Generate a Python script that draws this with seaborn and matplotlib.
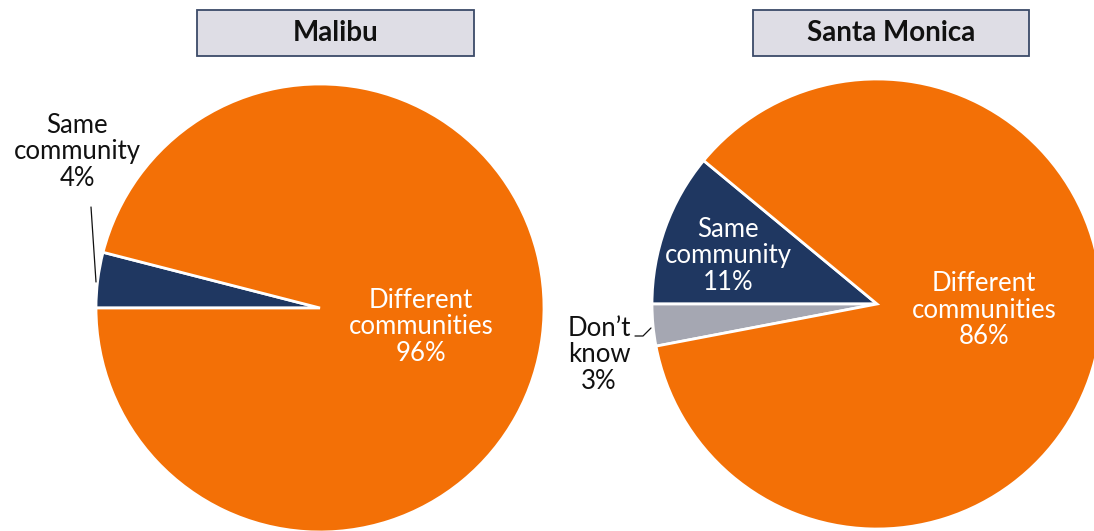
import matplotlib
matplotlib.use("Agg")
import matplotlib.pyplot as plt
from matplotlib.patches import Rectangle
import seaborn as sns

# Survey shares: where respondents' contacts live
regions = ["Malibu", "Santa Monica"]
malibu_labels = ["Same\ncommunity", "Different\ncommunities"]
malibu_values = [4, 96]
sm_labels = ["Same\ncommunity", "Don\u2019t\nknow", "Different\ncommunities"]
sm_values = [11, 3, 86]

sns.set_theme(style="white")
plt.rcParams["font.family"] = ["Lato", "DejaVu Sans"]

ORANGE = "#F37006"
NAVY = "#1F3761"
GRAY = "#A5A7B2"
BOX_FILL = "#DEDDE5"
BOX_EDGE = "#3B4A68"
DARK = "#111111"

W, H = 1094, 531
fig = plt.figure(figsize=(W / 100, H / 100), dpi=100)
ax = fig.add_axes([0, 0, 1, 1])


def y(px):
    """Convert a top-based pixel row to the axes' upward y coordinate."""
    return H - px


wedge_style = dict(edgecolor="white", linewidth=2)
label_size = 18.5

# Malibu pie: small slice sits just above the horizontal left radius
ax.pie(malibu_values, colors=[NAVY, ORANGE],
       startangle=180 - 3.6 * malibu_values[0], counterclock=True,
       center=(320, y(308)), radius=224, wedgeprops=wedge_style)

# Santa Monica pie
ax.pie(sm_values, colors=[NAVY, GRAY, ORANGE],
       startangle=180 - 3.6 * sm_values[0], counterclock=True,
       center=(877, y(304)), radius=225, wedgeprops=wedge_style)

ax.set_xlim(0, W)
ax.set_ylim(0, H)
ax.set_aspect("equal")
ax.axis("off")


def label(x, yy, text, value, color):
    ax.text(x, y(yy), f"{text}\n{value}%", ha="center", va="center",
            color=color, fontsize=label_size, linespacing=1.08)


label(77, 152, malibu_labels[0], malibu_values[0], DARK)
label(421, 327, malibu_labels[1], malibu_values[1], "white")
label(728, 256, sm_labels[0], sm_values[0], "white")
label(599, 355, sm_labels[1], sm_values[1], DARK)
label(984, 310, sm_labels[2], sm_values[2], "white")

# Leader lines for the thin outside-labelled slices
ax.plot([91, 96], [y(207), y(282)], color=DARK, linewidth=0.9)
ax.plot([635, 643, 651], [y(336), y(336), y(328)], color=DARK, linewidth=0.9)

# Title boxes
for name, (x0, x1) in zip(regions, [(197, 474), (753, 1029)]):
    ax.add_patch(Rectangle((x0, y(56)), x1 - x0, 46, facecolor=BOX_FILL,
                           edgecolor=BOX_EDGE, linewidth=1.3, zorder=3))
    ax.text((x0 + x1) / 2, y(33), name, ha="center", va="center",
            fontsize=20, fontweight="bold", color=DARK, zorder=4)

fig.savefig("out.png", dpi=100, facecolor="white")
